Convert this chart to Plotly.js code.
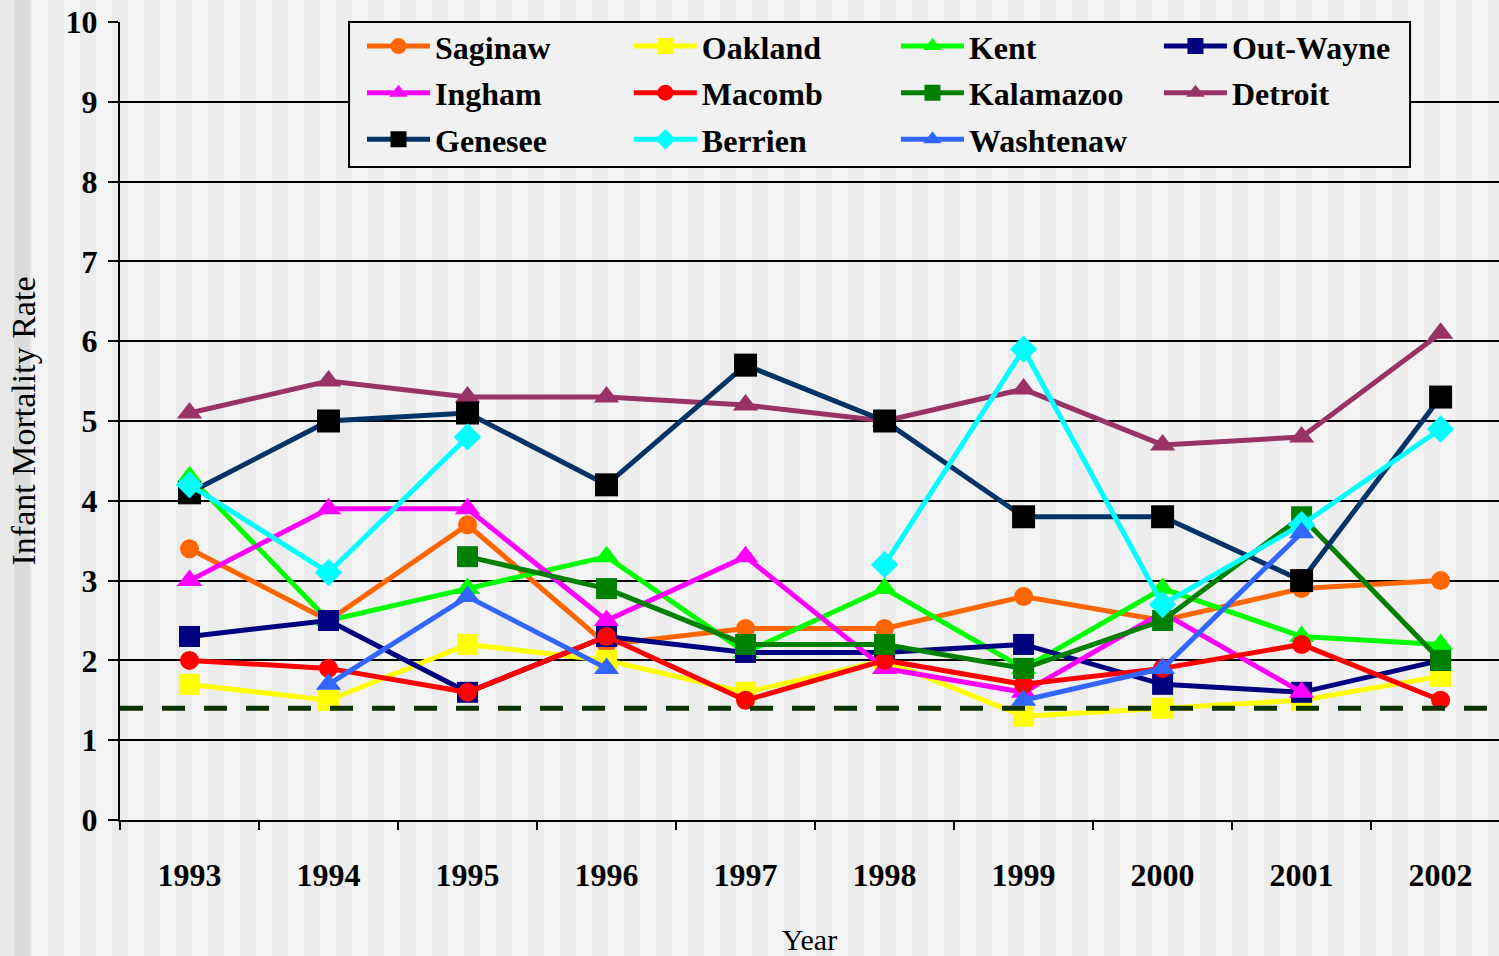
<!DOCTYPE html>
<html>
<head>
<meta charset="utf-8">
<script src="https://cdn.plot.ly/plotly-3.0.1.min.js"></script>
<style>
  html, body { margin:0; padding:0; width:1499px; height:956px; overflow:hidden; }
  body { background: repeating-linear-gradient(90deg, #f4f4f4 0px, #f4f4f4 16px, #ececec 16px, #ececec 32px); }
  #strip { position:absolute; left:0; top:0; width:30px; height:956px;
           background: linear-gradient(90deg, #e8e8e8 0px, #e8e8e8 14px, #dcdcdc 14px, #dcdcdc 30px); }
  #chart { position:absolute; left:0; top:0; width:1499px; height:956px; }
</style>
</head>
<body>
<div id="strip"></div>
<div id="chart"></div>
<script>
const years = ['1993','1994','1995','1996','1997','1998','1999','2000','2001','2002'];

const saginaw   = [3.4, 2.5, 3.7, 2.2, 2.4, 2.4, 2.8, 2.5, 2.9, 3.0];
const oakland   = [1.7, 1.5, 2.2, 2.0, 1.6, 2.0, 1.3, 1.4, 1.5, 1.8];
const kent      = [4.3, 2.5, 2.9, 3.3, 2.1, 2.9, 1.9, 2.9, 2.3, 2.2];
const outWayne  = [2.3, 2.5, 1.6, 2.3, 2.1, 2.1, 2.2, 1.7, 1.6, 2.0];
const ingham    = [3.0, 3.9, 3.9, 2.5, 3.3, 1.9, 1.6, 2.6, 1.6, null];
const macomb    = [2.0, 1.9, 1.6, 2.3, 1.5, 2.0, 1.7, 1.9, 2.2, 1.5];
const kalamazoo = [null, null, 3.3, 2.9, 2.2, 2.2, 1.9, 2.5, 3.8, 2.0];
const detroit   = [5.1, 5.5, 5.3, 5.3, 5.2, 5.0, 5.4, 4.7, 4.8, 6.1];
const genesee   = [4.1, 5.0, 5.1, 4.2, 5.7, 5.0, 3.8, 3.8, 3.0, 5.3];
const berrien   = [4.2, 3.1, 4.8, null, null, 3.2, 5.9, 2.7, 3.7, 4.9];
const washtenaw = [null, 1.7, 2.8, 1.9, null, null, 1.5, 1.9, 3.6, null];
const targetRate = 1.4;

const seriesNames = ['Saginaw','Oakland','Kent','Out-Wayne','Ingham','Macomb','Kalamazoo','Detroit','Genesee','Berrien','Washtenaw'];
const seriesData  = [saginaw, oakland, kent, outWayne, ingham, macomb, kalamazoo, detroit, genesee, berrien, washtenaw];
const lineColors  = ['#ff6600','#ffff00','#00ff00','#000080','#ff00ff','#ff0000','#008000','#993366','#003366','#00ffff','#3366ff'];
const markerColors= ['#ff6600','#ffff00','#00ff00','#000080','#ff00ff','#ff0000','#008000','#993366','#000000','#00ffff','#3366ff'];
const symbols     = ['circle','square','triangle-up','square','triangle-up','circle','square','triangle-up','square','diamond','triangle-up'];
const sizes       = [19, 21, 22, 21, 22, 19, 21, 22, 23, 21, 22];
// legend column for each series (4 columns, filled row by row)
const legendIds   = ['legend','legend2','legend3','legend4','legend','legend2','legend3','legend4','legend','legend2','legend3'];

const traces = seriesNames.map((name, i) => ({
  type: 'scatter',
  mode: 'lines+markers',
  name: name,
  x: years,
  y: seriesData[i],
  connectgaps: false,
  legend: legendIds[i],
  legendgroup: name,
  line: { color: lineColors[i], width: 5 },
  marker: { color: markerColors[i], symbol: symbols[i], size: sizes[i], line: { width: 0 } }
}));

const serif = 'Liberation Serif, Times New Roman, serif';
const legendFont = { family: serif, size: 32, weight: 'bold', color: '#000000' };
function legendAt(x) {
  return {
    orientation: 'v',
    x: x, xanchor: 'left', xref: 'paper',
    y: 1.004, yanchor: 'top', yref: 'paper',
    bgcolor: 'rgba(0,0,0,0)',
    borderwidth: 0,
    itemwidth: 63,
    tracegroupgap: 2,
    font: legendFont
  };
}

const layout = {
  width: 1499,
  height: 956,
  margin: { l: 120, r: 0, t: 22, b: 136 },
  paper_bgcolor: 'rgba(0,0,0,0)',
  plot_bgcolor: 'rgba(0,0,0,0)',
  showlegend: true,
  legend:  legendAt(0.1755),
  legend2: legendAt(0.3690),
  legend3: legendAt(0.5627),
  legend4: legendAt(0.7534),
  xaxis: {
    type: 'category',
    categoryorder: 'array',
    categoryarray: years,
    range: [-0.5, 9.42],
    tickson: 'boundaries',
    ticks: 'outside',
    ticklen: 8,
    tickwidth: 2,
    tickcolor: '#000000',
    showline: true,
    linecolor: '#000000',
    linewidth: 2,
    showgrid: false,
    zeroline: false,
    ticklabelstandoff: 26,
    tickfont: { family: serif, size: 32, weight: 'bold', color: '#000000' },
    title: { text: 'Year', font: { family: serif, size: 30, color: '#000000' }, standoff: 40 }
  },
  yaxis: {
    range: [0, 10],
    dtick: 1,
    tick0: 0,
    ticks: 'outside',
    ticklen: 10,
    tickwidth: 2,
    tickcolor: '#000000',
    showline: true,
    linecolor: '#000000',
    linewidth: 2,
    showgrid: true,
    gridcolor: '#000000',
    gridwidth: 2,
    zeroline: false,
    ticklabelstandoff: 4,
    tickfont: { family: serif, size: 32, weight: 'bold', color: '#000000' },
    title: { text: 'Infant Mortality Rate', font: { family: serif, size: 34, color: '#000000' }, standoff: 20 }
  },
  shapes: [
    {
      type: 'rect', layer: 'above',
      xref: 'paper', x0: 0.1661, x1: 0.9355,
      yref: 'paper', y0: 0.8183, y1: 1,
      line: { color: '#000000', width: 2 },
      fillcolor: '#f1f1f1'
    },
    {
      type: 'line', layer: 'above',
      xref: 'paper', x0: 0, x1: 1,
      yref: 'y', y0: targetRate, y1: targetRate,
      line: { color: '#0d3300', width: 5, dash: '23px,19px' }
    }
  ]
};

Plotly.newPlot('chart', traces, layout, { displayModeBar: false, staticPlot: true });
</script>
</body>
</html>
